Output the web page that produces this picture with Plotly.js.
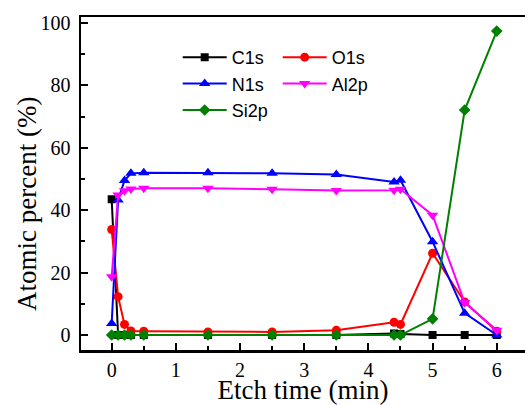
<!DOCTYPE html>
<html>
<head>
<meta charset="utf-8">
<script src="https://cdn.plot.ly/plotly-3.0.1.min.js"></script>
<style>html,body{margin:0;padding:0;background:#fff;}#chart{width:525px;height:405px;}</style>
</head>
<body>
<div id="chart"></div>
<script>
const etchTime = [0, 0.1, 0.2, 0.3, 0.5, 1.5, 2.5, 3.5, 4.4, 4.5, 5, 5.5, 6];
const c1s  = [43.5, 0, 0, 0, 0, 0, 0, 0, 0.5, 0.3, 0, 0, 0];
const o1s  = [33.8, 12.3, 3.4, 1.3, 1.2, 1.0, 1.0, 1.5, 4.1, 3.4, 26.2, 10.6, 1.2];
const n1s  = [3.7, 43.3, 49.5, 51.8, 52.0, 52.0, 51.8, 51.4, 49.0, 49.6, 29.9, 7.0, 0];
const al2p = [18.7, 44.9, 46.2, 46.8, 47.0, 47.0, 46.7, 46.3, 46.4, 46.7, 38.4, 10.4, 1.5];
const si2p = [0, 0, 0, 0, 0, 0, 0, 0, 0, 0, 5.2, 72.1, 97.4];

const seriesNames = ['C1s', 'O1s', 'N1s', 'Al2p', 'Si2p'];
const seriesData = [c1s, o1s, n1s, al2p, si2p];
const colors = ['#000000', '#ff0000', '#0000ff', '#ff00ff', '#008000'];
const symbols = ['square', 'circle', 'triangle-up', 'triangle-down', 'diamond'];
const sizes = [8, 9, 10, 10, 9];
const legendOf = ['legend', 'legend2', 'legend', 'legend2', 'legend'];

const traces = seriesNames.map((n, i) => ({
  x: etchTime, y: seriesData[i], name: n, type: 'scatter', mode: 'lines+markers',
  legend: legendOf[i],
  line: {color: colors[i], width: 2},
  marker: {color: colors[i], symbol: symbols[i], size: sizes[i]}
}));

const serif = 'Liberation Serif, Times New Roman, serif';
const tickFont = {family: serif, size: 20, color: '#000'};
const legFont = {family: 'Liberation Sans, Arial, sans-serif', size: 18, color: '#000'};
const layout = {
  width: 525, height: 405,
  margin: {l: 81, r: 0, t: 17, b: 55},
  paper_bgcolor: '#fff', plot_bgcolor: '#fff',
  showlegend: true,
  legend: {
    orientation: 'v', x: 0.2178, xanchor: 'left', y: 0.934, yanchor: 'top',
    itemwidth: 44, bgcolor: 'rgba(0,0,0,0)', font: legFont
  },
  legend2: {
    orientation: 'v', x: 0.443, xanchor: 'left', y: 0.934, yanchor: 'top',
    itemwidth: 44, bgcolor: 'rgba(0,0,0,0)', font: legFont
  },
  xaxis: {
    range: [-0.478, 6.44], tickvals: [0, 1, 2, 3, 4, 5, 6],
    ticks: 'inside', ticklen: 7, tickwidth: 2, tickcolor: '#000',
    minor: {dtick: 0.5, tick0: 0, ticks: 'inside', ticklen: 4, tickwidth: 2, tickcolor: '#000', showgrid: false},
    showline: true, linewidth: 2.5, linecolor: '#000', mirror: true,
    showgrid: false, zeroline: false, tickfont: tickFont,
    title: {text: 'Etch time (min)', font: {family: serif, size: 27, color: '#000'}, standoff: 1}
  },
  yaxis: {
    range: [-4.8, 101.9], tickvals: [0, 20, 40, 60, 80, 100],
    ticks: 'inside', ticklen: 7, tickwidth: 2, tickcolor: '#000',
    minor: {dtick: 10, tick0: 0, ticks: 'inside', ticklen: 4, tickwidth: 2, tickcolor: '#000', showgrid: false},
    showline: true, linewidth: 2.5, linecolor: '#000', mirror: false,
    showgrid: false, zeroline: false, tickfont: tickFont, ticklabelstandoff: 4
  },
  annotations: [{
    text: 'Atomic percent (%)', xref: 'paper', yref: 'paper',
    x: (27 - 81) / 444, y: (350 - 204) / 333, xanchor: 'center', yanchor: 'middle',
    textangle: -90, showarrow: false,
    font: {family: serif, size: 27, color: '#000'}
  }]
};
Plotly.newPlot('chart', traces, layout, {displayModeBar: false, staticPlot: true});
</script>
</body>
</html>
